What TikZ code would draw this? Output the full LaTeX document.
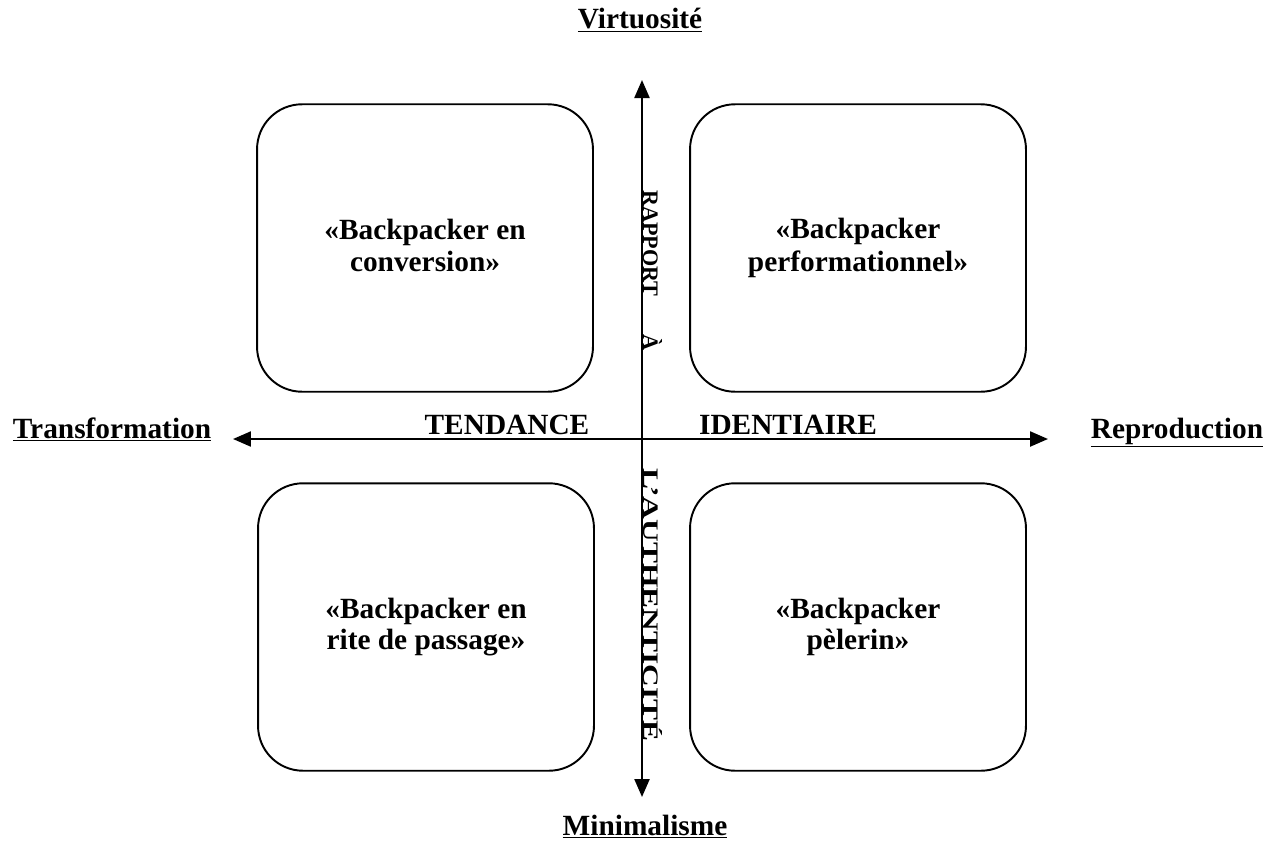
\documentclass[tikz,border=0pt]{standalone}
\usepackage{fontspec}
\setmainfont{Liberation Serif}
\usetikzlibrary{arrows.meta}

\begin{document}
\begin{tikzpicture}[
  x=0.02cm,y=-0.02cm,
  quadrant/.style={rectangle,draw,line width=1.1pt,rounded corners=0.9cm,minimum width=6.72cm,minimum height=5.75cm,align=center,font=\fontsize{16.7}{17.5}\selectfont\bfseries},
  pole/.style={anchor=base,font=\fontsize{16.7}{20}\selectfont\bfseries},
  tendency/.style={anchor=base,font=\fontsize{16.7}{20}\selectfont\bfseries},
  vlabel/.style={rotate=-90,anchor=base west,inner sep=0pt,font=\fontsize{12.6}{14}\selectfont\bfseries},
  axis/.style={line width=1.3pt,{Triangle[length=0.36cm,width=0.3cm]}-{Triangle[length=0.36cm,width=0.3cm]}}
]
\useasboundingbox (0,0) rectangle (1275,849);

\node[quadrant] (conversion) at (425,248) {\raisebox{3pt}{\shortstack{«Backpacker en\\conversion»}}};
\node[quadrant] (performance) at (858,248) {\raisebox{3pt}{\shortstack{«Backpacker\\performationnel»}}};
\node[quadrant] (passage) at (426,627) {«Backpacker en\\rite de passage»};
\node[quadrant] (pilgrim) at (858,627) {«Backpacker\\pèlerin»};

\coordinate (top) at (642,80);
\coordinate (bottom) at (642,797);
\coordinate (left) at (233,439);
\coordinate (right) at (1048,439);

\draw[axis] (bottom) -- (top);
\draw[axis] (left) -- (right);

\node[pole] (virtuosity) at (640,28) {\underline{Virtuosité}};
\node[pole] (minimalism) at (645,835) {\underline{Minimalisme}};
\node[pole] (transformation) at (112,438) {\underline{Transformation}};
\node[pole] (reproduction) at (1177,438) {\underline{Reproduction}};

\node[tendency] (tendance) at (507,434) {TENDANCE};
\node[tendency] (identity) at (788,434) {IDENTIAIRE};

\node[vlabel] (rapport) at (643,190) {RAPPORT};
\node[vlabel] (a) at (643,334) {À};
\node[vlabel] (authenticity) at (643,468) {\scalebox{1.42}[1]{L’AUTHENTICITÉ}};

\end{tikzpicture}
\end{document}
